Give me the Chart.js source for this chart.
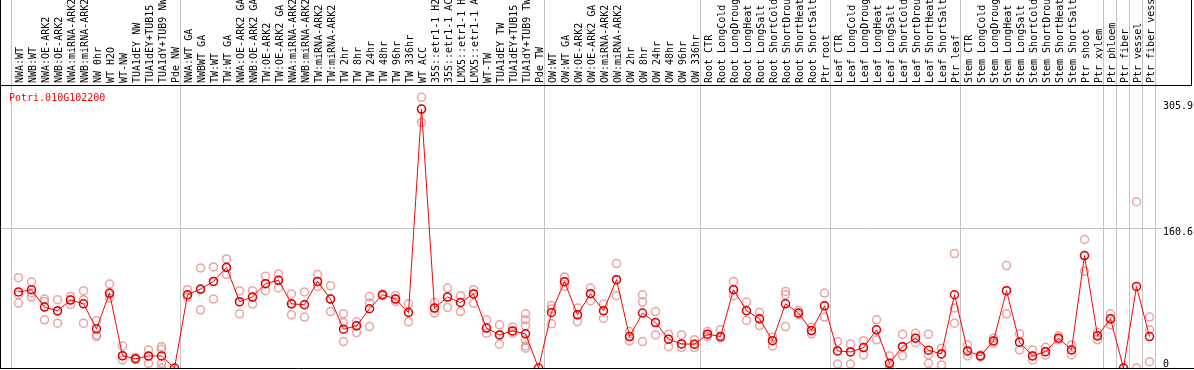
<!DOCTYPE html>
<html>
<head>
<meta charset="utf-8">
<script src="https://cdn.jsdelivr.net/npm/chart.js@4.4.1/dist/chart.umd.min.js"></script>
<style>
  html, body { margin: 0; padding: 0; background: #fff; }
</style>
</head>
<body>
<canvas id="expr" width="1194" height="370"></canvas>
<script>
const geneId = 'Potri.010G102200';

const samples = [
  'NWA:WT', 'NWB:WT', 'NWA:OE-ARK2', 'NWB:OE-ARK2', 'NWA:miRNA-ARK2', 'NWB:miRNA-ARK2',
  'NW 0hr', 'WT H2O', 'WT-NW', 'TUA1dEY NW', 'TUA1dEY+TUB15 NW', 'TUA1dY+TUB9 NW', 'Pde NW',
  'NWA:WT GA', 'NWBWT GA', 'TW:WT', 'TW:WT GA', 'NWA:OE-ARK2 GA', 'NWB:OE-ARK2 GA',
  'TW:OE-ARK2', 'TW:OE-ARK2 GA', 'NWA:miRNA-ARK2 GA', 'NWB:miRNA-ARK2 GA', 'TW:miRNA-ARK2',
  'TW:miRNA-ARK2 GA', 'TW 2hr', 'TW 8hr', 'TW 24hr', 'TW 48hr', 'TW 96hr', 'TW 336hr',
  'WT ACC', '35S::etr1-1 H2O', '35S::etr1-1 ACC', 'LMX5::etr1-1 H2O', 'LMX5::etr1-1 ACC',
  'WT-TW', 'TUA1dEY TW', 'TUA1dEY+TUB15 TW', 'TUA1dY+TUB9 TW', 'Pde TW',
  'OW:WT', 'OW:WT GA', 'OW:OE-ARK2', 'OW:OE-ARK2 GA', 'OW:miRNA-ARK2', 'OW:miRNA-ARK2 GA',
  'OW 2hr', 'OW 8hr', 'OW 24hr', 'OW 48hr', 'OW 96hr', 'OW 336hr',
  'Root CTR', 'Root LongCold', 'Root LongDrought', 'Root LongHeat', 'Root LongSalt',
  'Root ShortCold', 'Root ShortDrought', 'Root ShortHeat', 'Root ShortSalt', 'Ptr root',
  'Leaf CTR', 'Leaf LongCold', 'Leaf LongDrought', 'Leaf LongHeat', 'Leaf LongSalt',
  'Leaf ShortCold', 'Leaf ShortDrought', 'Leaf ShortHeat', 'Leaf ShortSalt', 'Ptr leaf',
  'Stem CTR', 'Stem LongCold', 'Stem LongDrought', 'Stem LongHeat', 'Stem LongSalt',
  'Stem ShortCold', 'Stem ShortDrought', 'Stem ShortHeat', 'Stem ShortSalt',
  'Ptr shoot', 'Ptr xylem', 'Ptr phloem', 'Ptr fiber', 'Ptr vessel', 'Ptr fiber vessel'
];

// mean expression per sample
const means = [
  87.5, 90.1, 70.1, 65.9, 78.2, 73.9, 45.1, 86.3, 14.2, 10.7, 13.9, 13.9, 0,
  84.3, 90.9, 99.7, 115.9, 76.3, 81.7, 97.1, 100.9, 73.9, 72.8, 99.7, 79.4,
  44.7, 48.5, 68.2, 84.3, 79.4, 63.9, 298.1, 69.0, 81.7, 75.4, 85.2,
  45.9, 38.1, 42.7, 39.3, 0,
  63.9, 99.4, 61.2, 85.5, 65.9, 101.7, 36.2, 63.2, 52.3, 33.2, 27.7, 27.4,
  38.9, 36.2, 90.1, 65.9, 56.6, 31.5, 73.9, 63.2, 43.1, 71.6,
  19.6, 18.5, 23.5, 43.9, 5.4, 24.6, 34.3, 20.5, 16.2, 84.3,
  19.6, 13.9, 31.2, 89.0, 29.7, 13.9, 18.8, 34.3, 20.8,
  129.4, 37.0, 56.6, 0, 93.9, 36.2
];

// single replicates per sample
const replicates = [
  [104.0, 84.3, 74.8], [99.0, 86.7, 81.7], [79.4, 76.6, 55.5], [78.6, 65.0, 51.6],
  [82.4, 78.6, 72.8], [89.0, 78.6, 51.6], [54.3, 38.1, 36.2], [96.7, 84.3, 80.5],
  [25.4, 14.0, 9.2], [12.0, 10.5, 9.8], [20.8, 13.5, 5.4], [24.6, 21.6, 5.4, 0], [],
  [90.1, 84.3, 81.7], [115.2, 90.0, 67.0], [116.3, 99.5, 79.4], [125.6, 115.5, 107.5],
  [89.0, 76.0, 62.4], [89.0, 81.7, 73.6], [105.5, 97.1, 89.0], [108.3, 100.9, 92.1],
  [85.2, 73.9, 61.2], [87.5, 72.8, 58.6], [107.5, 99.7, 93.9], [94.7, 79.4, 65.0],
  [62.4, 52.3, 30.4], [53.1, 48.5, 40.8], [82.4, 74.8, 47.7], [84.3, 83.2, 84.8],
  [83.2, 79.4, 76.6], [73.9, 63.9, 53.1], [311.6, 298.1, 282.7], [75.4, 69.0, 63.2],
  [92.1, 81.7, 69.7], [83.2, 75.4, 65.0], [90.1, 85.2, 74.8], [55.5, 45.9, 40.1],
  [49.7, 38.1, 27.4], [47.0, 42.7, 40.1], [62.4, 55.5, 48.5, 32.4, 25.4, 22.8], [],
  [72.0, 67.8, 50.8], [104.8, 99.4, 93.9], [69.0, 61.2, 53.5], [92.1, 85.5, 77.4],
  [73.6, 65.9, 57.4], [120.2, 101.7, 83.2], [41.9, 36.2, 31.2], [84.3, 75.9, 30.4],
  [65.0, 52.3, 38.1], [38.9, 33.2, 24.6], [38.1, 27.7, 23.5], [32.4, 27.4, 23.5],
  [41.9, 38.9, 36.2], [43.9, 36.2, 34.7], [99.7, 90.1, 83.2], [75.9, 65.9, 54.7],
  [63.9, 56.6, 48.9], [35.5, 31.5, 25.4], [88.2, 84.3, 47.7], [66.2, 63.2, 61.2],
  [47.0, 43.1, 39.3], [86.3, 71.6, 58.6],
  [30.4, 19.6, 4.6], [27.7, 18.5, 4.6], [31.5, 23.5, 15.0], [55.5, 43.9, 32.4],
  [13.9, 5.4, 0], [38.9, 24.6, 14.2], [40.1, 34.3, 29.2], [38.9, 15.0, 5.4],
  [22.8, 16.2, 3.5], [131.7, 69.0, 51.6],
  [26.6, 19.6, 13.9], [15.0, 13.9, 12.7], [34.3, 31.2, 28.5], [117.9, 89.0, 62.4],
  [39.3, 29.7, 20.8], [20.8, 13.9, 9.2], [23.9, 18.8, 15.0], [37.0, 34.3, 32.4],
  [26.6, 20.8, 15.0], [147.9, 129.4, 111.3], [40.8, 37.0, 32.4], [62.4, 56.6, 49.7],
  [0], [191.4, 0], [58.6, 43.9, 7.3]
];

const yTicks = [0, 160.6, 305.9];
const yMax = 324.6;
// index of first sample in each block (grey separators)
const groupStarts = [0, 13, 41, 53, 63, 73, 84, 85, 86, 87, 88];

const monoFont = 'DejaVu Sans Mono';

const framePlugin = {
  id: 'frame',
  beforeDatasetsDraw(chart) {
    const { ctx, chartArea, scales: { x, y } } = chart;
    ctx.save();
    ctx.lineWidth = 1;
    ctx.strokeStyle = '#c4c4c4';
    groupStarts.forEach(b => {
      const px = Math.round(x.getPixelForValue(b - 0.6)) + 0.5;
      ctx.beginPath();
      ctx.moveTo(px, 0);
      ctx.lineTo(px, chartArea.bottom);
      ctx.stroke();
    });
    const gy = Math.round(y.getPixelForValue(yTicks[1])) + 0.5;
    ctx.beginPath();
    ctx.moveTo(0, gy);
    ctx.lineTo(chartArea.right + 6, gy);
    ctx.stroke();

    ctx.strokeStyle = '#000';
    const top = chartArea.top - 0.5;
    const bottom = Math.round(chartArea.bottom) + 0.5;
    ctx.beginPath();
    ctx.moveTo(0.5, 0); ctx.lineTo(0.5, bottom);
    ctx.moveTo(0, top); ctx.lineTo(chart.width - 2, top);
    ctx.moveTo(chart.width - 2.5, 0); ctx.lineTo(chart.width - 2.5, top);
    ctx.moveTo(0, bottom); ctx.lineTo(chart.width, bottom);
    ctx.stroke();

    ctx.fillStyle = '#ff0000';
    ctx.font = '10px ' + monoFont;
    ctx.textBaseline = 'top';
    ctx.fillText(geneId, 9, chartArea.top + 7);
    ctx.restore();
  }
};

new Chart(document.getElementById('expr'), {
  type: 'scatter',
  data: {
    datasets: [
      {
        label: 'mean',
        data: means.map((v, i) => ({ x: i, y: v })),
        showLine: true,
        borderColor: '#ff0000',
        borderWidth: 1,
        pointRadius: 4,
        pointBorderWidth: 1.5,
        pointBorderColor: '#e00000',
        pointBackgroundColor: 'rgba(0,0,0,0)',
        order: 0
      },
      {
        label: 'replicates',
        data: replicates.flatMap((r, i) => r.map(v => ({ x: i, y: v }))),
        showLine: false,
        pointRadius: 4,
        pointBorderWidth: 1.5,
        pointBorderColor: 'rgba(230,140,140,0.8)',
        pointBackgroundColor: 'rgba(0,0,0,0)',
        order: 1
      }
    ]
  },
  options: {
    responsive: false,
    animation: false,
    devicePixelRatio: 1,
    layout: { autoPadding: false, padding: { left: 12, right: 0, top: 0, bottom: 2 } },
    plugins: { legend: { display: false }, tooltip: { enabled: false } },
    scales: {
      x: {
        type: 'linear',
        position: 'top',
        min: -0.5,
        max: samples.length - 0.5,
        afterBuildTicks: s => { s.ticks = samples.map((_, i) => ({ value: i })); },
        afterFit: s => { s.height = 86; s.paddingLeft = 0; s.paddingRight = 0; },
        grid: { display: false, drawTicks: false },
        border: { display: false },
        ticks: {
          autoSkip: false,
          minRotation: 90,
          maxRotation: 90,
          padding: 3,
          labelOffset: 14,
          color: '#000',
          font: { family: monoFont, size: 10 },
          callback: v => samples[v]
        }
      },
      y: {
        position: 'right',
        min: 0,
        max: yMax,
        afterBuildTicks: s => { s.ticks = yTicks.map(v => ({ value: v })); },
        afterFit: s => { s.width = 38; s.paddingTop = 0; s.paddingBottom = 0; },
        grid: { display: false, drawTicks: false },
        border: { display: false },
        ticks: {
          padding: 7,
          color: '#000',
          font: { family: monoFont, size: 10, lineHeight: 0.8 },
          callback: v => v === 0 ? ['0', ''] : ['', String(v)]
        }
      }
    }
  },
  plugins: [framePlugin]
});
</script>
</body>
</html>
